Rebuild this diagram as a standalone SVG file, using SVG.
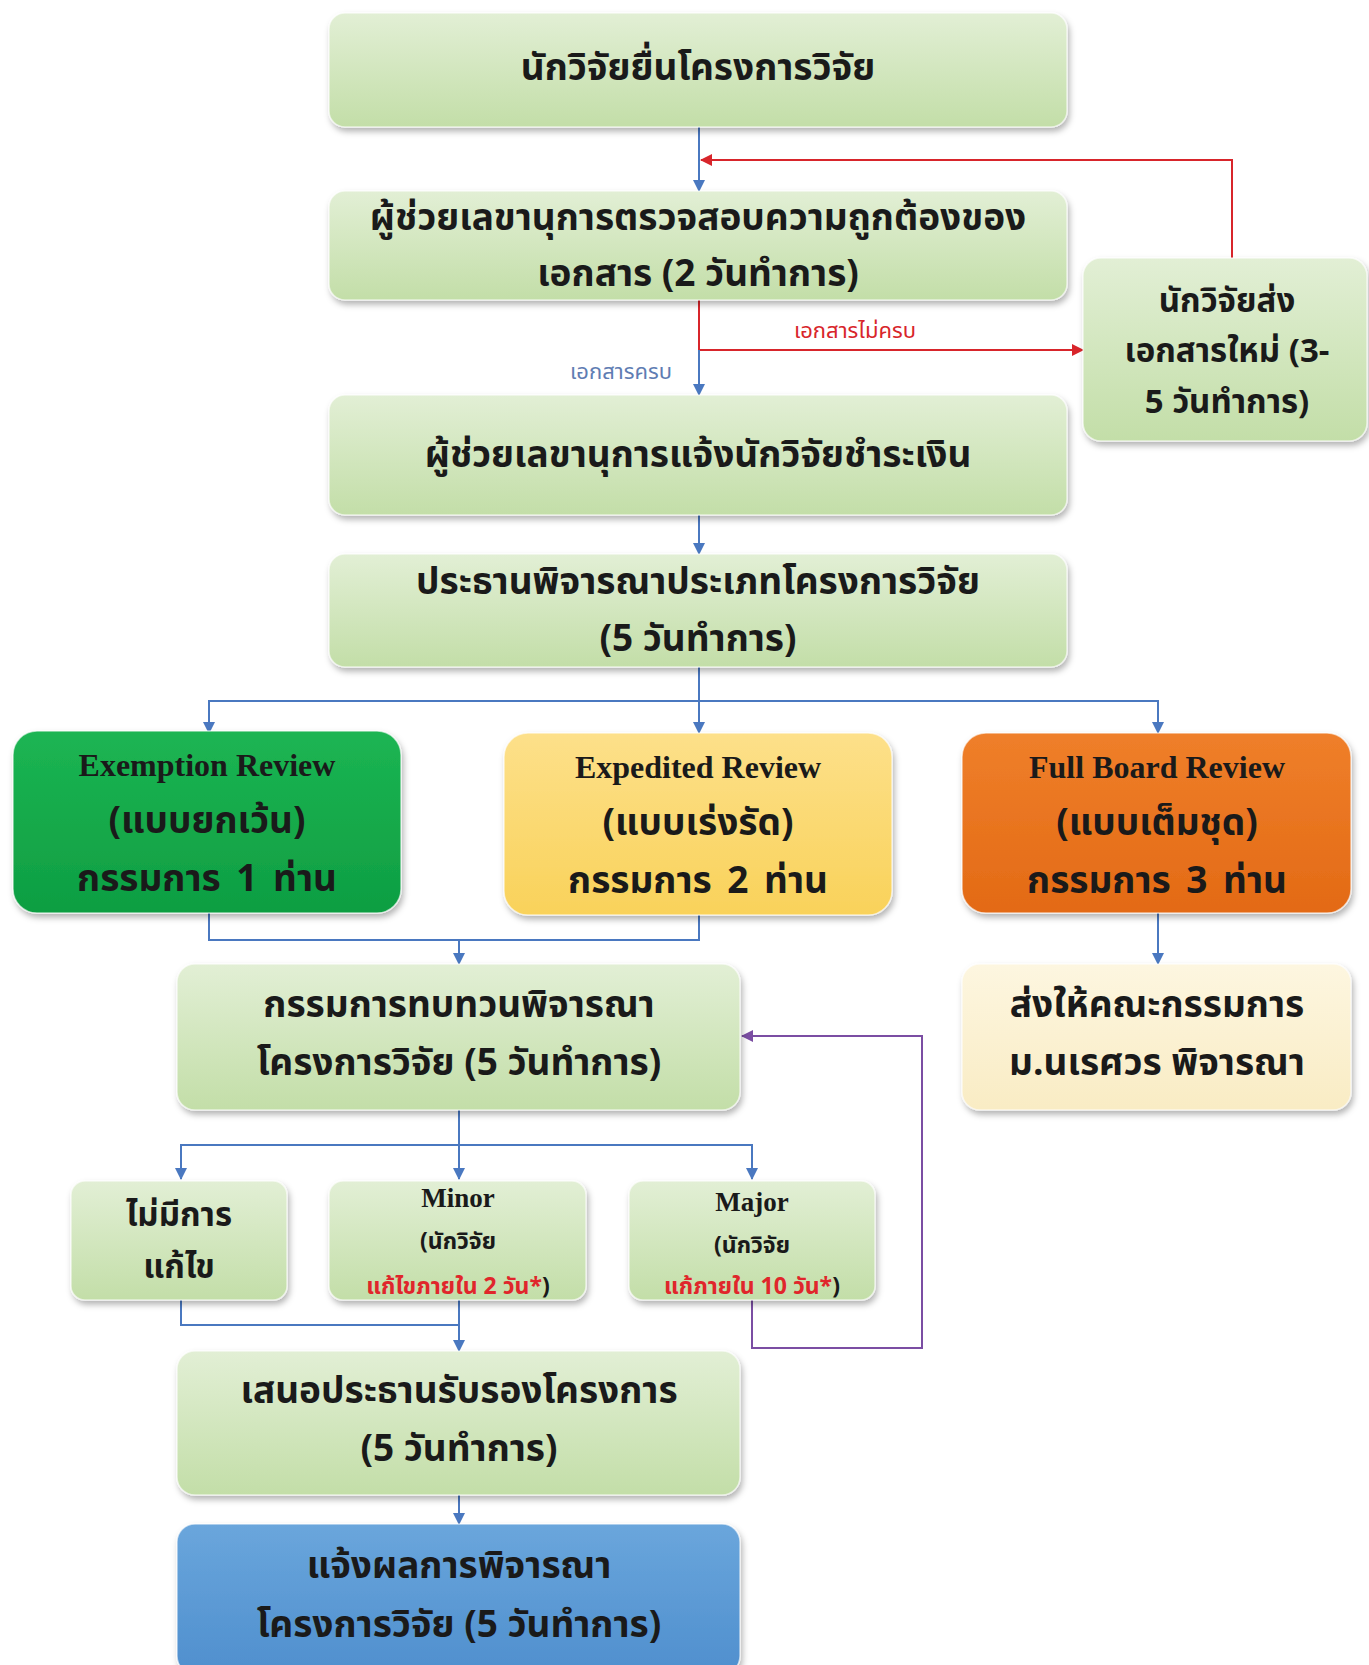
<svg xmlns="http://www.w3.org/2000/svg" width="1369" height="1665" viewBox="0 0 1369 1665">
<defs>
<linearGradient id="gGreen" x1="0" y1="0" x2="0" y2="1"><stop offset="0" stop-color="#e2efd5"/><stop offset="1" stop-color="#c3dea8"/></linearGradient>
<linearGradient id="gDark" x1="0" y1="0" x2="0" y2="1"><stop offset="0" stop-color="#1cb553"/><stop offset="1" stop-color="#0e9e42"/></linearGradient>
<linearGradient id="gYellow" x1="0" y1="0" x2="0" y2="1"><stop offset="0" stop-color="#fde08a"/><stop offset="1" stop-color="#f9d25a"/></linearGradient>
<linearGradient id="gOrange" x1="0" y1="0" x2="0" y2="1"><stop offset="0" stop-color="#ef7f2a"/><stop offset="1" stop-color="#e36a15"/></linearGradient>
<linearGradient id="gCream" x1="0" y1="0" x2="0" y2="1"><stop offset="0" stop-color="#fdf6e0"/><stop offset="1" stop-color="#f9ecc4"/></linearGradient>
<linearGradient id="gBlue" x1="0" y1="0" x2="0" y2="1"><stop offset="0" stop-color="#6aa6dc"/><stop offset="1" stop-color="#4f8fce"/></linearGradient>
<filter id="sh" x="-5%" y="-10%" width="110%" height="125%"><feDropShadow dx="2" dy="4" stdDeviation="3" flood-color="#000" flood-opacity="0.3"/></filter>
<marker id="aB" markerWidth="12" markerHeight="12" refX="11" refY="6" orient="auto" markerUnits="userSpaceOnUse"><path d="M0,0 L12,6 L0,12 z" fill="#4a78c0"/></marker>
<marker id="aR" markerWidth="12" markerHeight="12" refX="11" refY="6" orient="auto" markerUnits="userSpaceOnUse"><path d="M0,0 L12,6 L0,12 z" fill="#d8252b"/></marker>
<marker id="aP" markerWidth="12" markerHeight="12" refX="11" refY="6" orient="auto" markerUnits="userSpaceOnUse"><path d="M0,0 L12,6 L0,12 z" fill="#7b4ea3"/></marker>
</defs>
<style>
.box{stroke:#ffffff;stroke-opacity:0.6;stroke-width:1.5;filter:url(#sh)}
.t{font-family:"Noto Sans Thai","Noto Sans","DejaVu Sans",sans-serif;font-weight:bold;font-size:37px;fill:#1a1a1a;text-anchor:middle}
.e{font-family:"Liberation Serif",serif;font-weight:bold;font-size:32px;fill:#1a1a1a;text-anchor:middle}
.s{font-family:"Noto Sans Thai","Noto Sans","DejaVu Sans",sans-serif;font-weight:bold;font-size:23px;text-anchor:middle}
.lbl{font-family:"Noto Sans Thai","Noto Sans","DejaVu Sans",sans-serif;font-weight:normal;font-size:22px;text-anchor:middle}
.lb{stroke:#4a78c0;stroke-width:2;fill:none}
.lr{stroke:#d8252b;stroke-width:2;fill:none}
.lp{stroke:#7b4ea3;stroke-width:2;fill:none}
</style>
<rect width="1369" height="1665" fill="#ffffff"/>

<g id="connectors">
<path class="lb" d="M699,127 V191" marker-end="url(#aB)"/>
<path class="lr" d="M1232,258 V160 H701" marker-end="url(#aR)"/>
<path class="lr" d="M699,300 V350 H1083" marker-end="url(#aR)"/>
<path class="lb" d="M699,350 V395" marker-end="url(#aB)"/>
<text class="lbl" x="855" y="338" style="fill:#d8252b">เอกสารไม่ครบ</text>
<text class="lbl" x="621" y="379" style="fill:#5f7db3">เอกสารครบ</text>
<path class="lb" d="M699,515 V554" marker-end="url(#aB)"/>
<path class="lb" d="M699,667 V733" marker-end="url(#aB)"/>
<path class="lb" d="M209,733 V701 H1158 V733" marker-end="url(#aB)"/>
<path class="lb" d="M209,701 V733" marker-end="url(#aB)"/>
<path class="lb" d="M209,913 V940 H699 V915"/>
<path class="lb" d="M459,940 V964" marker-end="url(#aB)"/>
<path class="lb" d="M1158,913 V964" marker-end="url(#aB)"/>
<path class="lb" d="M459,1110 V1179" marker-end="url(#aB)"/>
<path class="lb" d="M181,1179 V1145 H752 V1179" marker-end="url(#aB)"/>
<path class="lb" d="M181,1145 V1179" marker-end="url(#aB)"/>
<path class="lb" d="M181,1300 V1325 H459"/>
<path class="lb" d="M459,1300 V1351" marker-end="url(#aB)"/>
<path class="lp" d="M752,1300 V1348 H922 V1036 H742" marker-end="url(#aP)"/>
<path class="lb" d="M459,1495 V1524" marker-end="url(#aB)"/>
</g>

<g id="n1"><rect class="box" x="329" y="13" width="738" height="114" rx="16" fill="url(#gGreen)"/><text class="t" x="698" y="80">นักวิจัยยื่นโครงการวิจัย</text></g>
<g id="n2"><rect class="box" x="329" y="191" width="738" height="109" rx="16" fill="url(#gGreen)"/><text class="t" x="698" y="230">ผู้ช่วยเลขานุการตรวจสอบความถูกต้องของ</text><text class="t" x="698" y="286">เอกสาร (2 วันทำการ)</text></g>
<g id="n3"><rect class="box" x="1083" y="258" width="284" height="183" rx="18" fill="url(#gGreen)"/><text class="t" x="1227" y="312" style="font-size:33px">นักวิจัยส่ง</text><text class="t" x="1227" y="362" style="font-size:33px">เอกสารใหม่ (3-</text><text class="t" x="1227" y="413" style="font-size:33px">5 วันทำการ)</text></g>
<g id="n4"><rect class="box" x="329" y="395" width="738" height="120" rx="16" fill="url(#gGreen)"/><text class="t" x="698" y="467">ผู้ช่วยเลขานุการแจ้งนักวิจัยชำระเงิน</text></g>
<g id="n5"><rect class="box" x="329" y="554" width="738" height="113" rx="16" fill="url(#gGreen)"/><text class="t" x="698" y="594">ประธานพิจารณาประเภทโครงการวิจัย</text><text class="t" x="698" y="651">(5 วันทำการ)</text></g>
<g id="n6"><rect class="box" x="13" y="731" width="388" height="182" rx="24" fill="url(#gDark)"/><text class="e" x="207" y="776">Exemption Review</text><text class="t" x="207" y="833">(แบบยกเว้น)</text><text class="t" x="207" y="891" style="word-spacing:6px">กรรมการ 1 ท่าน</text></g>
<g id="n7"><rect class="box" x="504" y="733" width="388" height="182" rx="24" fill="url(#gYellow)"/><text class="e" x="698" y="778">Expedited Review</text><text class="t" x="698" y="835">(แบบเร่งรัด)</text><text class="t" x="698" y="893" style="word-spacing:6px">กรรมการ 2 ท่าน</text></g>
<g id="n8"><rect class="box" x="962" y="733" width="389" height="180" rx="24" fill="url(#gOrange)"/><text class="e" x="1157" y="778">Full Board Review</text><text class="t" x="1157" y="835">(แบบเต็มชุด)</text><text class="t" x="1157" y="893" style="word-spacing:6px">กรรมการ 3 ท่าน</text></g>
<g id="n9"><rect class="box" x="177" y="964" width="563" height="146" rx="18" fill="url(#gGreen)"/><text class="t" x="459" y="1017">กรรมการทบทวนพิจารณา</text><text class="t" x="459" y="1075">โครงการวิจัย (5 วันทำการ)</text></g>
<g id="n10"><rect class="box" x="962" y="964" width="389" height="146" rx="18" fill="url(#gCream)"/><text class="t" x="1157" y="1017">ส่งให้คณะกรรมการ</text><text class="t" x="1157" y="1075">ม.นเรศวร พิจารณา</text></g>
<g id="n11"><rect class="box" x="71" y="1181" width="216" height="119" rx="14" fill="url(#gGreen)"/><text class="t" x="179" y="1226" style="font-size:33px">ไม่มีการ</text><text class="t" x="179" y="1278" style="font-size:33px">แก้ไข</text></g>
<g id="n12"><rect class="box" x="329" y="1181" width="257" height="119" rx="14" fill="url(#gGreen)"/><text class="e" x="458" y="1207" style="font-size:27px">Minor</text><text class="s" x="458" y="1249" style="fill:#1a1a1a">(นักวิจัย</text><text class="s" x="458" y="1294"><tspan style="fill:#e0262b">แก้ไขภายใน 2 วัน*</tspan><tspan style="fill:#1a1a1a">)</tspan></text></g>
<g id="n13"><rect class="box" x="629" y="1181" width="246" height="119" rx="14" fill="url(#gGreen)"/><text class="e" x="752" y="1211" style="font-size:27px">Major</text><text class="s" x="752" y="1253" style="fill:#1a1a1a">(นักวิจัย</text><text class="s" x="752" y="1294"><tspan style="fill:#e0262b">แก้ภายใน 10 วัน*</tspan><tspan style="fill:#1a1a1a">)</tspan></text></g>
<g id="n14"><rect class="box" x="177" y="1351" width="563" height="144" rx="18" fill="url(#gGreen)"/><text class="t" x="459" y="1403">เสนอประธานรับรองโครงการ</text><text class="t" x="459" y="1461">(5 วันทำการ)</text></g>
<g id="n15"><rect class="box" x="177" y="1524" width="563" height="150" rx="18" fill="url(#gBlue)"/><text class="t" x="459" y="1578">แจ้งผลการพิจารณา</text><text class="t" x="459" y="1637">โครงการวิจัย (5 วันทำการ)</text></g>
</svg>
